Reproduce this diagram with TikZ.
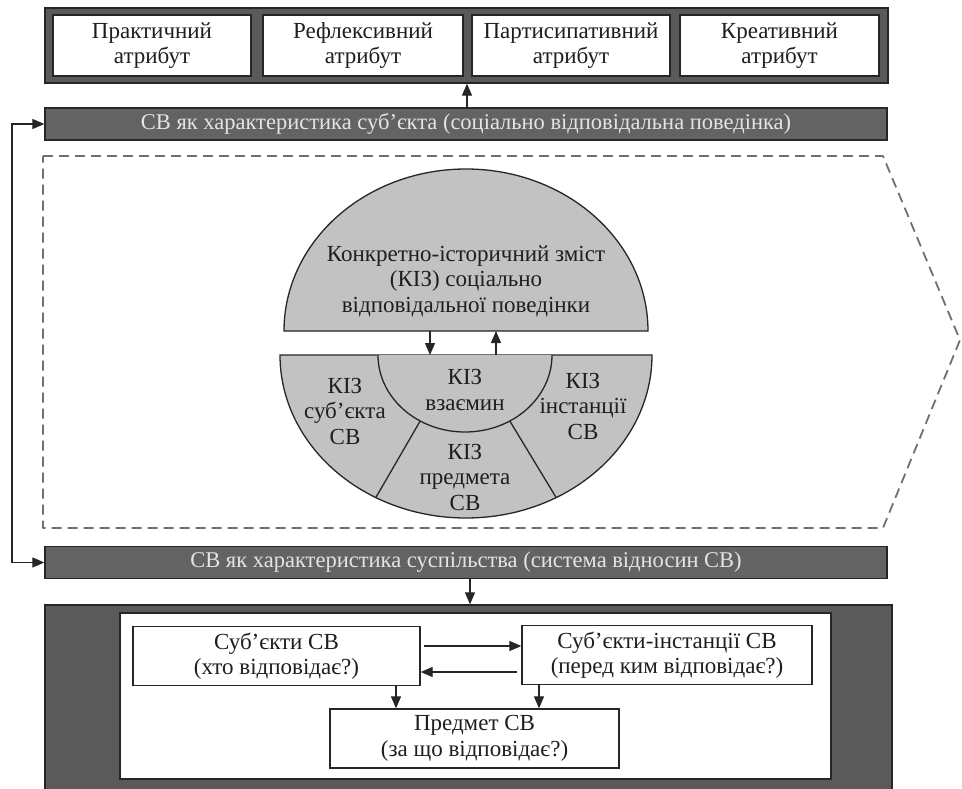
\documentclass[tikz,border=0pt]{standalone}
\usepackage{fontspec}
\setmainfont{Liberation Serif}
\usetikzlibrary{arrows.meta,calc}
\definecolor{panel}{HTML}{5A5A5A}
\definecolor{barfill}{HTML}{636363}
\definecolor{bartext}{HTML}{E4E4E4}
\definecolor{segfill}{HTML}{C2C2C2}
\definecolor{edge}{HTML}{262626}
\definecolor{dashgray}{HTML}{707070}
\definecolor{ink}{HTML}{1E1E1E}
\begin{document}
\begin{tikzpicture}[x=1pt,y=-1pt,
  font=\fontsize{23}{25.5}\selectfont,
  every node/.style={text=ink},
  panelbox/.style={draw=edge, line width=1.3pt, fill=panel, inner sep=0pt},
  attr/.style={draw=edge, line width=1.3pt, fill=white, minimum width=198pt,
    minimum height=61pt, align=center, inner sep=0pt},
  bar/.style={draw=edge, line width=1.3pt, fill=barfill, text=bartext,
    minimum width=842pt, minimum height=32pt, inner sep=0pt,
    font=\fontsize{22.5}{25}\selectfont},
  qbox/.style={draw=edge, line width=1.3pt, fill=white, minimum width=288pt,
    minimum height=59pt, align=center, inner sep=0pt},
  tip/.tip={Triangle[length=12pt,width=10pt]},
  arr/.style={-tip, line width=1.2pt, draw=edge},
  seg/.style={fill=segfill, draw=edge, line width=1.3pt},
  segtext/.style={align=center, inner sep=0pt}
]
\useasboundingbox (0,0) rectangle (962,789);

% ---- attributes panel ----
\node[panelbox, minimum width=843pt, minimum height=75pt] (top) at (466.5,45.5) {};
\node[attr] (a1) at (152,45.5) {Практичний\\атрибут};
\node[attr, minimum width=200pt] (a2) at (363,45.5) {Рефлексивний\\атрибут};
\node[attr] (a3) at (571,45.5) {Партисипативний\\атрибут};
\node[attr, minimum width=199pt] (a4) at (779.5,45.5) {Креативний\\атрибут};

% ---- subject bar ----
\node[bar] (bar1) at (466,124) {СВ як характеристика суб’єкта (соціально відповідальна поведінка)};
\coordinate (up) at (467,108);
\draw[arr] (up) -- (up |- top.south);

% ---- dashed frame ----
\draw[dashgray, line width=1.8pt, dash pattern=on 10pt off 6pt, line join=round]
  (43,156) -- (883,156) -- (960,340) -- (883,528) -- (43,528) -- cycle;

% ---- upper segment: concrete-historical content ----
\draw[seg] (284,331) arc[start angle=180, end angle=360, x radius=182, y radius=162] -- cycle;
\node[segtext] (kiz) at (466,281) {Конкретно-історичний зміст\\(КІЗ) соціально\\відповідальної поведінки};

% ---- lower segment ----
\coordinate (lc) at (466,355);
\coordinate (ic) at (465,355);
\draw[seg] (280,355) arc[start angle=180, end angle=0, x radius=186, y radius=163] -- cycle;
\draw[seg] (378,355) arc[start angle=180, end angle=0, x radius=87, y radius=77];
\draw[edge, line width=1.3pt] ($(ic)+(121:87 and 77)$) -- ($(lc)+(119:186 and 163)$);
\draw[edge, line width=1.3pt] ($(ic)+(59:87 and 77)$) -- ($(lc)+(61:186 and 163)$);

\node[segtext] (ks) at (345,411) {КІЗ\\суб’єкта\\СВ};
\node[segtext] (kv) at (465,390) {КІЗ\\взаємин};
\node[segtext] (ki) at (583,406) {КІЗ\\інстанції\\СВ};
\node[segtext] (kp) at (465,477) {КІЗ\\предмета\\СВ};

% ---- links between the segments ----
\coordinate (dn1) at (430,331);
\coordinate (dn2) at (430,355);
\coordinate (up1) at (496,355);
\coordinate (up2) at (496,331);
\draw[arr] (dn1) -- (dn2);
\draw[arr] (up1) -- (up2);

% ---- society bar ----
\node[bar] (bar2) at (466,562.5) {СВ як характеристика суспільства (система відносин СВ)};

% ---- feedback loop on the left ----
\coordinate (lk) at (12,124);
\draw[arr, tip-tip] (bar1.west) -- (lk) |- (bar2.west);

% ---- system of relations panel ----
\node[panelbox, minimum width=847pt, minimum height=190pt] (bot) at (468.5,700) {};
\node[draw=edge, line width=1.3pt, fill=white, minimum width=711pt, minimum height=166pt,
  inner sep=0pt] (inner) at (475.5,696) {};
\coordinate (dw) at (470,579);
\draw[arr] (dw) -- (dw |- bot.north);

\node[qbox, minimum width=287pt] (s1) at (276.5,656) {Суб’єкти СВ\\(хто відповідає?)};
\node[qbox, minimum width=290pt] (s2) at (667,655) {Суб’єкти-інстанції СВ\\(перед ким відповідає?)};
\node[qbox, minimum width=289pt] (s3) at (474.5,738.5) {Предмет СВ\\(за що відповідає?)};

\draw[arr] ($(s1.east)+(3,-10)$) -- ($(s2.west)+(0,-9)$);
\draw[arr] ($(s2.west)+(-4,17)$) -- ($(s1.east)+(0,16)$);
\coordinate (d1) at (396,0);
\coordinate (d2) at (539,0);
\draw[arr] (d1 |- s1.south) -- (d1 |- s3.north);
\draw[arr] (d2 |- s2.south) -- (d2 |- s3.north);
\end{tikzpicture}
\end{document}
